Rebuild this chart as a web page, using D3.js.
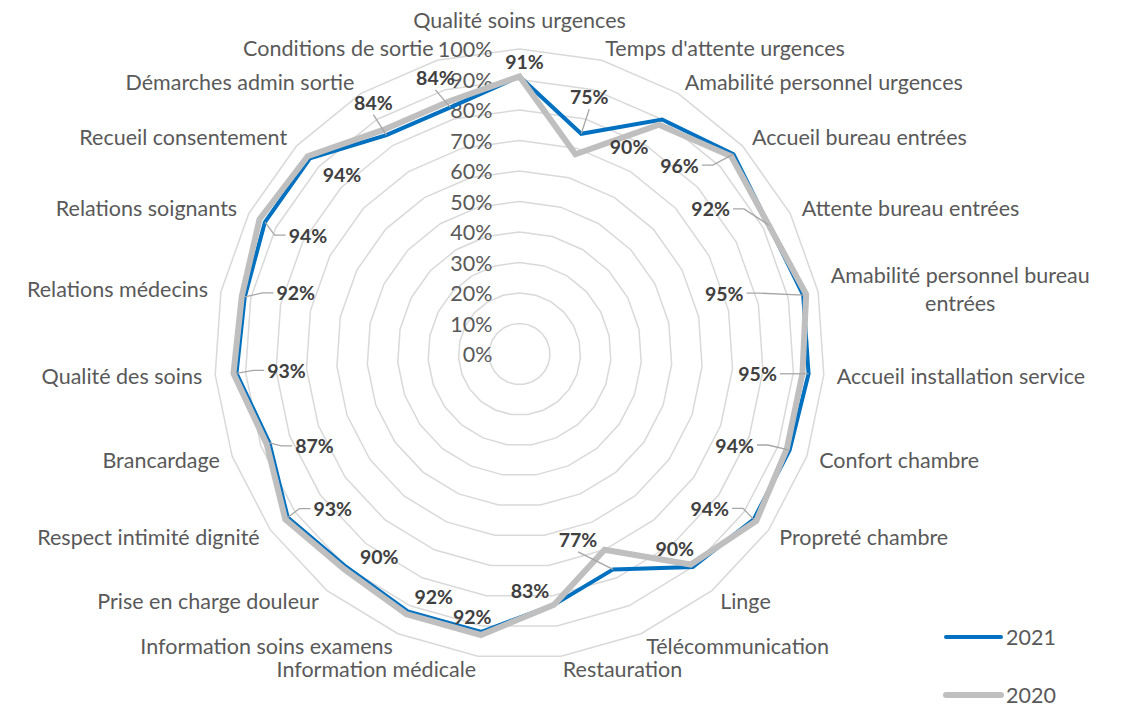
<!DOCTYPE html>
<html>
<head>
<meta charset="utf-8">
<script src="https://cdn.jsdelivr.net/npm/d3@7"></script>
<style>
  html, body { margin: 0; padding: 0; background: #fff; }
  svg { display: block; font-family: Lato, 'Open Sans', sans-serif; }
</style>
</head>
<body>
<div id="chart"></div>
<script>
const categories = [
  'Qualité soins urgences', "Temps d'attente urgences", 'Amabilité personnel urgences',
  'Accueil bureau entrées', 'Attente bureau entrées', 'Amabilité personnel bureau entrées',
  'Accueil installation service', 'Confort chambre', 'Propreté chambre', 'Linge',
  'Télécommunication', 'Restauration', 'Information médicale', 'Information soins examens',
  'Prise en charge douleur', 'Respect intimité dignité', 'Brancardage', 'Qualité des soins',
  'Relations médecins', 'Relations soignants', 'Recueil consentement',
  'Démarches admin sortie', 'Conditions de sortie'
]
const seriesNames = ['2021', '2020']
const values2021 = [0.91, 0.75, 0.90, 0.96, 0.92, 0.95, 0.95, 0.94, 0.94, 0.90, 0.77, 0.83,
  0.92, 0.92, 0.90, 0.93, 0.87, 0.93, 0.92, 0.94, 0.94, 0.84, 0.84]
const values2020 = [0.91, 0.68, 0.88, 0.95, 0.92, 0.96, 0.93, 0.93, 0.95, 0.89, 0.70, 0.83,
  0.93, 0.93, 0.91, 0.94, 0.88, 0.94, 0.93, 0.96, 0.95, 0.86, 0.86]
const tickValues = [0, 0.1, 0.2, 0.3, 0.4, 0.5, 0.6, 0.7, 0.8, 0.9, 1]

// where the 2021 data labels were dragged to (px from their point), and which have a leader
const labelShift = [[5, -15], [8, -37], [-33, 27], [-54, 11], [-58, -16], [-79, -2], [-51, 0],
  [-55, -5], [-44, -11], [-18, -18], [-35, -30], [-24, -14], [-9, -15], [26, -15], [33, -10],
  [45, -9], [45, 3], [50, -3], [51, -4], [43, 13], [32, 16], [-13, -33], [-15, -30]]
const leaders = [0, 1, 0, 1, 1, 1, 1, 1, 1, 0, 1, 0, 0, 0, 0, 1, 1, 1, 1, 1, 0, 1, 1]

const width = 1124
const height = 707
const cx = 519.5
const cy = 354
const radius = 305
const colors = ['#0070C0', '#BFBFBF']
const strokes = [4, 6]
const textSize = 21.5

const r = d3.scaleLinear().domain([0, 1]).range([0, radius])
const angle = d3.scaleLinear().domain([0, categories.length]).range([0, 2 * Math.PI])
const pct = d3.format('.0%')
const pt = (i, v) => [r(v) * Math.sin(angle(i)), -r(v) * Math.cos(angle(i))]

const svg = d3.select('#chart').append('svg')
  .attr('width', width)
  .attr('height', height)
const g = svg.append('g').attr('transform', 'translate(' + cx + ',' + cy + ')')

const radar = d3.lineRadial()
  .angle((d, i) => angle(i))
  .radius(d => r(d))
  .curve(d3.curveLinearClosed)

// grid rings
g.selectAll('path.grid')
  .data(tickValues.filter(t => t > 0))
  .enter().append('path')
  .attr('class', 'grid')
  .attr('d', t => radar(categories.map(() => t)))
  .attr('fill', 'none')
  .attr('stroke', '#D9D9D9')
  .attr('stroke-width', 1.5)

// value axis labels
g.selectAll('text.tick')
  .data(tickValues)
  .enter().append('text')
  .attr('class', 'tick')
  .attr('x', -27)
  .attr('y', t => -r(t))
  .attr('text-anchor', 'end')
  .attr('dominant-baseline', 'central')
  .attr('font-size', textSize)
  .attr('fill', '#595959')
  .text(pct)

// series, 2020 drawn over 2021
g.selectAll('path.series')
  .data([values2021, values2020])
  .enter().append('path')
  .attr('class', 'series')
  .attr('d', d => radar(d))
  .attr('fill', 'none')
  .attr('stroke', (d, i) => colors[i])
  .attr('stroke-width', (d, i) => strokes[i])
  .attr('stroke-linejoin', 'miter')

// category labels
categories.forEach((name, i) => {
  const a = angle(i)
  const s = Math.sin(a)
  const p = pt(i, 1).map(v => v * (radius + 13) / radius)
  let anchor = 'middle'
  if (s > 0.05) anchor = 'start'
  if (s < -0.05) anchor = 'end'
  const y0 = Math.abs(s) <= 0.05 ? p[1] - 16 * Math.cos(a) : p[1]
  const t = g.append('text')
    .attr('font-size', textSize)
    .attr('fill', '#595959')
    .attr('dominant-baseline', 'central')
    .attr('text-anchor', anchor)
    .attr('x', p[0])
    .attr('y', y0)
    .text(name)
  const avail = anchor === 'start' ? width - cx - 4 - p[0] : anchor === 'end' ? p[0] + cx - 4 : width
  if (t.node().getComputedTextLength() > avail) {
    // wrap word by word, lines centred on the block
    const words = name.split(' ')
    const lines = []
    let line = []
    t.text('')
    words.forEach(w => {
      t.text(line.concat(w).join(' '))
      if (line.length && t.node().getComputedTextLength() > avail) {
        lines.push(line.join(' '))
        line = [w]
      } else {
        line.push(w)
      }
    })
    lines.push(line.join(' '))
    let blockW = 0
    lines.forEach(l => { t.text(l); blockW = Math.max(blockW, t.node().getComputedTextLength()) })
    t.text('')
    const lh = 28
    const bx = anchor === 'start' ? p[0] + blockW / 2 : anchor === 'end' ? p[0] - blockW / 2 : p[0]
    t.attr('text-anchor', 'middle')
    lines.forEach((l, k) => {
      t.append('tspan')
        .attr('x', bx)
        .attr('y', y0 + (k - (lines.length - 1) / 2) * lh)
        .text(l)
    })
  }
})

// data labels for 2021
const dl = g.append('g')
values2021.forEach((v, i) => {
  const p = pt(i, v)
  const off = labelShift[i]
  const lx = p[0] + off[0]
  const ly = p[1] + off[1]
  const t = dl.append('text')
    .attr('x', lx)
    .attr('y', ly)
    .attr('text-anchor', 'middle')
    .attr('dominant-baseline', 'central')
    .attr('font-size', 19.5)
    .attr('font-weight', 'bold')
    .attr('fill', '#404040')
    .text(pct(v))
  if (!leaders[i]) return
  const b = t.node().getBBox()
  let pts
  if (Math.abs(off[0]) > 1.5 * Math.abs(off[1])) {
    const sx = off[0] < 0 ? b.x + b.width + 3 : b.x - 3
    const dir = off[0] < 0 ? 1 : -1
    pts = [[sx, ly], [sx + dir * 11, ly], p]
  } else {
    const sy = off[1] < 0 ? b.y + b.height + 1 : b.y - 1
    pts = [[lx, sy], p]
  }
  dl.insert('path', 'text')
    .attr('d', d3.line()(pts))
    .attr('fill', 'none')
    .attr('stroke', '#A6A6A6')
    .attr('stroke-width', 1.3)
})

// legend
const legend = svg.append('g').attr('transform', 'translate(946,637)')
seriesNames.forEach((name, i) => {
  const row = legend.append('g').attr('transform', 'translate(0,' + i * 58 + ')')
  row.append('line')
    .attr('x1', 0).attr('x2', 55)
    .attr('stroke', colors[i])
    .attr('stroke-width', strokes[i])
    .attr('stroke-linecap', 'round')
  row.append('text')
    .attr('x', 60)
    .attr('dominant-baseline', 'central')
    .attr('font-size', textSize)
    .attr('fill', '#595959')
    .text(name)
})
</script>
</body>
</html>
